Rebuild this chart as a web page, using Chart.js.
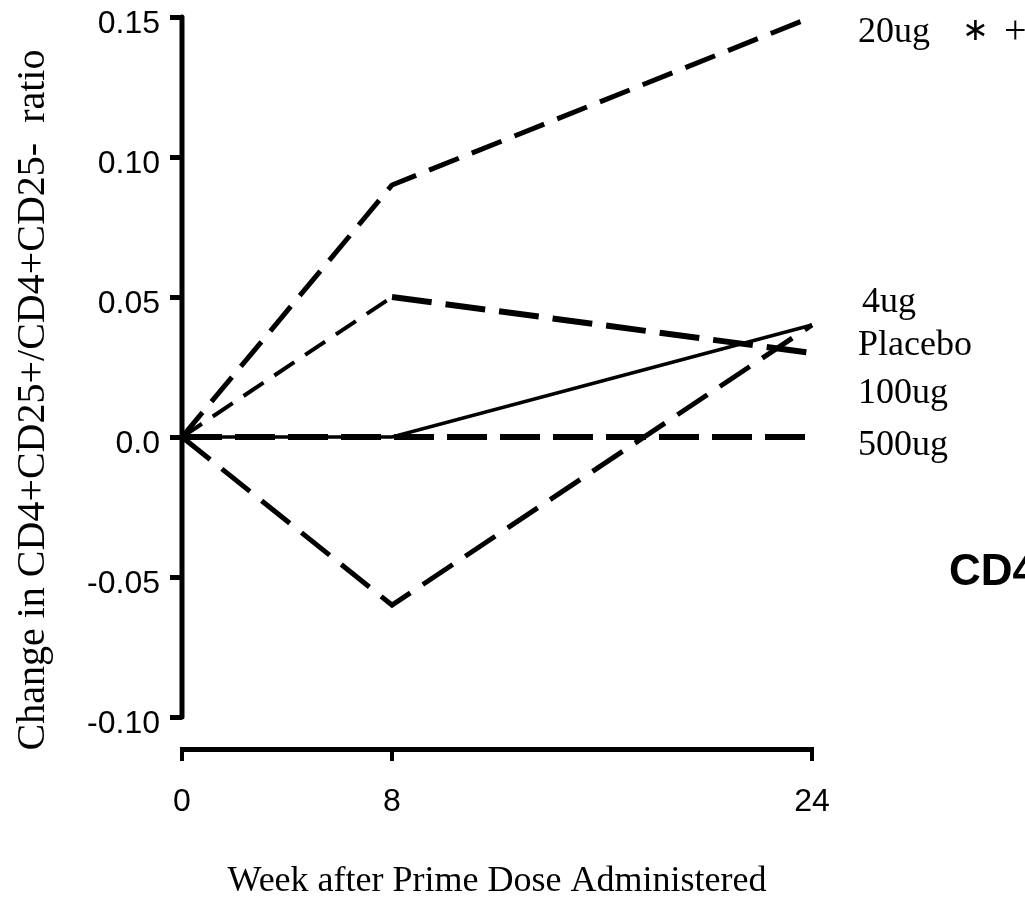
<!DOCTYPE html>
<html>
<head>
<meta charset="utf-8">
<title>CD4+CD25+ ratio by week</title>
<script src="https://cdn.jsdelivr.net/npm/chart.js@4"></script>
<style>
  html, body { margin: 0; padding: 0; background: #fff; overflow: hidden; }
  canvas { display: block; }
</style>
</head>
<body>
<canvas id="ratioChart" width="1025" height="909"></canvas>
<script>
// weeks after prime dose
const weeks = [0, 8, 24];

// change in CD4+CD25+/CD4+CD25- ratio per dose group
const dose20ug = [0, 0.09, 0.15];
const dose4ug = [0, 0.05, 0.03];
const placebo = [0, 0, 0.04];
const dose100ug = [0, -0.06, 0.04];
const dose500ug = [0, 0, 0];

const yTicks = [-0.10, -0.05, 0.0, 0.05, 0.10, 0.15];
const yTickLabels = ['-0.10', '-0.05', '0.0', '0.05', '0.10', '0.15'];

const seriesLabels = ['20ug', '4ug', 'Placebo', '100ug', '500ug'];
const yTitle = 'Change in CD4+CD25+/CD4+CD25-  ratio';
const xTitle = 'Week after Prime Dose Administered';

const serif = '"Liberation Serif", "Times New Roman", serif';
const sans = '"Liberation Sans", Arial, sans-serif';

function toPoints(values) {
    return values.map((v, i) => ({ x: weeks[i], y: v }));
}

// right-hand series names and the cut-off panel heading
const sideLabels = {
    id: 'sideLabels',
    afterDraw(chart) {
        const ctx = chart.ctx;
        const area = chart.chartArea;
        const x = area.right + 46;
        ctx.save();
        ctx.fillStyle = '#000';
        ctx.textBaseline = 'alphabetic';
        ctx.font = '36px ' + serif;
        ctx.fillText(seriesLabels[0], x, area.top + 25);
        ctx.textBaseline = 'middle';
        ctx.font = '32px ' + serif;
        ctx.fillText('\u2217', x + 104, area.top + 15);
        ctx.font = '40px ' + serif;
        ctx.fillText('+', x + 146, area.top + 15);
        ctx.textBaseline = 'alphabetic';
        ctx.font = '36px ' + serif;
        ctx.fillText(seriesLabels[1], x + 4, area.top + 295);
        ctx.fillText(seriesLabels[2], x, area.top + 338);
        ctx.fillText(seriesLabels[3], x, area.top + 386);
        ctx.fillText(seriesLabels[4], x, area.top + 438);
        ctx.font = 'bold 44px ' + sans;
        ctx.fillText('CD4+CD25+', area.right + 137, area.top + 568);
        ctx.restore();
    }
};

// vertical axis line spans only the tick range; rotated axis title
const yAxisLine = {
    id: 'yAxisLine',
    afterDraw(chart) {
        const ctx = chart.ctx;
        const y = chart.scales.y;
        const left = chart.chartArea.left;
        ctx.save();
        ctx.strokeStyle = '#000';
        ctx.lineWidth = 5;
        ctx.lineCap = 'round';
        ctx.beginPath();
        ctx.moveTo(left, y.getPixelForValue(yTicks[yTicks.length - 1]));
        ctx.lineTo(left, y.getPixelForValue(yTicks[0]));
        ctx.stroke();

        ctx.translate(44, 400);
        ctx.rotate(-Math.PI / 2);
        ctx.fillStyle = '#000';
        ctx.font = '40px ' + serif;
        ctx.textAlign = 'center';
        ctx.textBaseline = 'alphabetic';
        ctx.fillText(yTitle, 0, 0);
        ctx.restore();
    }
};

const lineBase = {
    borderColor: '#000',
    backgroundColor: '#000',
    pointRadius: 0,
    fill: false,
    tension: 0,
    borderCapStyle: 'butt',
    clip: false
};

new Chart(document.getElementById('ratioChart'), {
    type: 'line',
    data: {
        datasets: [
            Object.assign({}, lineBase, {
                label: seriesLabels[0], data: toPoints(dose20ug),
                borderWidth: 5, borderDash: [32, 14]
            }),
            Object.assign({}, lineBase, {
                label: seriesLabels[1], data: toPoints(dose4ug),
                borderWidth: 4, borderDash: [24, 13],
                segment: {
                    borderWidth: c => c.p0DataIndex === 1 ? 6 : 4,
                    borderDash: c => c.p0DataIndex === 1 ? [40, 14] : [24, 13]
                }
            }),
            Object.assign({}, lineBase, {
                label: seriesLabels[2], data: toPoints(placebo),
                borderWidth: 3.5
            }),
            Object.assign({}, lineBase, {
                label: seriesLabels[3], data: toPoints(dose100ug),
                borderWidth: 5, borderDash: [36, 15]
            }),
            Object.assign({}, lineBase, {
                label: seriesLabels[4], data: toPoints(dose500ug),
                borderWidth: 6, borderDash: [40, 13]
            })
        ]
    },
    options: {
        responsive: false,
        animation: false,
        layout: { padding: { left: 0, top: 17, right: 213, bottom: 0 } },
        plugins: {
            legend: { display: false },
            tooltip: { enabled: false }
        },
        scales: {
            x: {
                type: 'linear',
                min: 0,
                max: 24,
                afterBuildTicks: s => { s.ticks = weeks.map(v => ({ value: v })); },
                afterFit: s => {
                    s.height = 160;
                    s.paddingLeft = 0;
                    s.paddingRight = 0;
                },
                border: { display: true, color: '#000', width: 5 },
                grid: {
                    drawOnChartArea: false,
                    drawTicks: true,
                    tickLength: 12,
                    color: '#000',
                    lineWidth: 4
                },
                ticks: {
                    color: '#000',
                    padding: 22,
                    font: { family: sans, size: 32 },
                    callback: v => String(v)
                },
                title: {
                    display: true,
                    text: xTitle,
                    color: '#000',
                    padding: { top: 0, bottom: 6 },
                    font: { family: serif, size: 36 }
                }
            },
            y: {
                type: 'linear',
                min: -0.1114,
                max: 0.15,
                afterBuildTicks: s => { s.ticks = yTicks.map(v => ({ value: v })); },
                afterFit: s => {
                    s.width = 182;
                    s.paddingTop = 0;
                    s.paddingBottom = 0;
                },
                border: { display: false },
                grid: {
                    drawOnChartArea: false,
                    drawTicks: true,
                    tickLength: 12,
                    color: '#000',
                    lineWidth: 5
                },
                ticks: {
                    color: '#000',
                    padding: 10,
                    labelOffset: 7,
                    font: { family: sans, size: 32 },
                    callback: v => yTickLabels[yTicks.findIndex(t => Math.abs(t - v) < 1e-9)]
                }
            }
        }
    },
    plugins: [yAxisLine, sideLabels]
});
</script>
</body>
</html>
